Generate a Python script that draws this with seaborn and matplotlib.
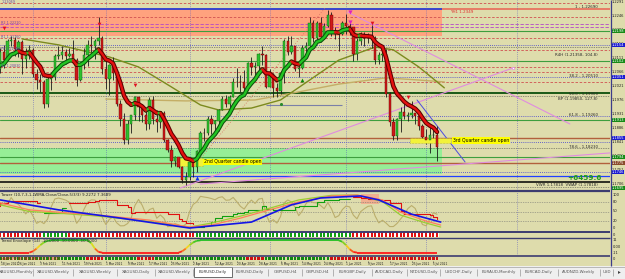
import numpy as np
import pandas as pd
import matplotlib
matplotlib.use("Agg")
import matplotlib.pyplot as plt
from matplotlib.patches import Rectangle
from matplotlib.collections import LineCollection
from matplotlib.colors import LinearSegmentedColormap
import seaborn as sns

# ======================= DATA =======================
first_open = 1.2078
closes = [
    1.2077, 1.2131, 1.2106, 1.2165, 1.2171, 1.2141, 1.2162, 1.2108, 1.2118, 1.2137,
    1.2060, 1.2042, 1.2036, 1.1963, 1.2045, 1.2051, 1.2119, 1.2120, 1.2132, 1.2119,
    1.2126, 1.2105, 1.2040, 1.2091, 1.2120, 1.2154, 1.2150, 1.2165, 1.2175, 1.2075,
    1.2045, 1.2090, 1.2063, 1.1965, 1.1915, 1.1847, 1.1900, 1.1929, 1.1985, 1.1953,
    1.1930, 1.1900, 1.1977, 1.1917, 1.1905, 1.1935, 1.1850, 1.1815, 1.1780, 1.1793,
    1.1763, 1.1719, 1.1729,
    1.1778, 1.1761, 1.1812, 1.1872, 1.1871, 1.1915, 1.1900, 1.1911, 1.1946, 1.1979,
    1.1965, 1.1985, 1.2035, 1.2035, 1.2034, 1.2015, 1.2095, 1.2083, 1.2087, 1.2126,
    1.2122, 1.2020,
    1.2060, 1.2015, 1.2005, 1.2065, 1.2165, 1.2130, 1.2150, 1.2075, 1.2080, 1.2145,
    1.2150, 1.2225, 1.2175, 1.2225, 1.2180, 1.2215, 1.2250, 1.2195, 1.2195, 1.2190,
    1.2225,
    1.2215, 1.2210, 1.2125, 1.2165, 1.2190, 1.2175, 1.2180, 1.2175, 1.2105, 1.2120,
    1.2125, 1.1995, 1.1905, 1.1860, 1.1915, 1.1940, 1.1925, 1.1930, 1.1935, 1.1925,
    1.1895, 1.1857,
    1.1847, 1.1865, 1.1865, 1.1825]
highs = [
    1.2092, 1.2145, 1.2154, 1.2172, 1.2184, 1.2180, 1.2169, 1.2169, 1.2144, 1.2155,
    1.2145, 1.2077, 1.2060, 1.2040, 1.2052, 1.2060, 1.2125, 1.2150, 1.2150, 1.2140,
    1.2145, 1.2169, 1.2111, 1.2097, 1.2144, 1.2169, 1.2181, 1.2173, 1.2243, 1.2182,
    1.2113, 1.2093, 1.2114, 1.2074, 1.1978, 1.1935, 1.1913, 1.1929, 1.1990, 1.1988,
    1.1963, 1.1952, 1.1985, 1.1990, 1.1945, 1.1943, 1.1942, 1.1853, 1.1832, 1.1798,
    1.1793, 1.1775, 1.1746,
    1.1782, 1.1783, 1.1818, 1.1877, 1.1887, 1.1927, 1.1928, 1.1913, 1.1948, 1.1990,
    1.1994, 1.1993, 1.2048, 1.2080, 1.2056, 1.2072, 1.2099, 1.2116, 1.2100, 1.2127,
    1.2150, 1.2125,
    1.2077, 1.2065, 1.2030, 1.2069, 1.2173, 1.2181, 1.2182, 1.2150, 1.2095, 1.2153,
    1.2164, 1.2245, 1.2234, 1.2230, 1.2243, 1.2225, 1.2266, 1.2261, 1.2210, 1.2200,
    1.2230,
    1.2254, 1.2225, 1.2210, 1.2175, 1.2196, 1.2195, 1.2193, 1.2218, 1.2181, 1.2131,
    1.2139, 1.2141, 1.2002, 1.1919, 1.1920, 1.1954, 1.1970, 1.1940, 1.1975, 1.1935,
    1.1930, 1.1901,
    1.1885, 1.1896, 1.1882, 1.1895]
lows = [
    1.2054, 1.2065, 1.2080, 1.2110, 1.2150, 1.2117, 1.2115, 1.2060, 1.2081, 1.2109,
    1.2050, 1.2011, 1.2004, 1.1952, 1.1955, 1.2010, 1.2041, 1.2107, 1.2110, 1.2092,
    1.2116, 1.2097, 1.2023, 1.2038, 1.2075, 1.2086, 1.2130, 1.2110, 1.2155, 1.2061,
    1.2013, 1.1992, 1.2040, 1.1958, 1.1893, 1.1836, 1.1835, 1.1872, 1.1914, 1.1910,
    1.1905, 1.1882, 1.1884, 1.1900, 1.1874, 1.1888, 1.1842, 1.1810, 1.1762, 1.1765,
    1.1760, 1.1712, 1.1704,
    1.1721, 1.1731, 1.1746, 1.1803, 1.1845, 1.1866, 1.1868, 1.1871, 1.1877, 1.1946,
    1.1956, 1.1950, 1.1985, 1.2020, 1.2003, 1.1995, 1.2008, 1.2056, 1.2057, 1.2069,
    1.2089, 1.2016,
    1.2018, 1.1986, 1.1985, 1.1997, 1.2031, 1.2122, 1.2125, 1.2071, 1.2051, 1.2075,
    1.2120, 1.2148, 1.2162, 1.2164, 1.2162, 1.2173, 1.2211, 1.2183, 1.2174, 1.2133,
    1.2185,
    1.2190, 1.2185, 1.2103, 1.2104, 1.2153, 1.2150, 1.2160, 1.2144, 1.2093, 1.2093,
    1.2103, 1.1985, 1.1892, 1.1847, 1.1848, 1.1875, 1.1915, 1.1911, 1.1920, 1.1900,
    1.1880, 1.1850,
    1.1836, 1.1807, 1.1848, 1.1782]

date_labels = ["18 Jan 2021", "26 Jan 2021", "3 Feb 2021", "11 Feb 2021", "19 Feb 2021",
               "1 Mar 2021", "9 Mar 2021", "17 Mar 2021", "25 Mar 2021", "2 Apr 2021",
               "12 Apr 2021", "20 Apr 2021", "28 Apr 2021", "6 May 2021", "14 May 2021",
               "24 May 2021", "1 Jun 2021", "9 Jun 2021", "17 Jun 2021", "25 Jun 2021",
               "5 Jul 2021"]
date_label_bars = [0, 6, 12, 18, 24, 30, 36, 42, 48, 54, 60, 66, 72, 78, 84, 90,
                   96, 102, 108, 114, 120]
month_start_bars = [10, 30, 53, 75, 96, 118, 143]

# long moving averages
olive_bars = [7, 17, 31, 39, 48, 56, 61, 70, 78, 86, 94, 104, 109, 116, 123]
olive_vals = [1.2173, 1.2154, 1.2115, 1.2083, 1.2019, 1.1961, 1.1945, 1.1951,
              1.1977, 1.2041, 1.2105, 1.2147, 1.2138, 1.2083, 1.2016]
tan_bars = [30, 52, 71, 83, 94, 107, 116, 123]
tan_vals = [1.1980, 1.1974, 1.1977, 1.2003, 1.2028, 1.2048, 1.2041, 1.2035]

# horizontal levels
salmon_zone = [1.2182, 1.2269]
green_zone = [1.1739, 1.1823]
top_level = 1.2269
red_dash_levels = [1.2288, 1.2243, 1.2176, 1.2138, 1.2083, 1.2067, 1.2035]
purple_dash_levels = [1.2221, 1.2211]
green_levels = [1.2198, 1.2102, 1.1913, 1.1794]
dark_green_levels = [1.1999]
blue_dot_levels = [1.2154, 1.2051, 1.1926, 1.1842, 1.1746]
gray_dot_levels = [1.2147, 1.1990, 1.1823, 1.1698]
brown_levels = [1.1855, 1.1775]
blue_levels = [1.1733]
black_levels = [1.1714]
short_level_price = 1.1961
short_level_bars = [74, 95]

# trend lines (bar, price) end points
pink_a_bars, pink_a_prices = [50.4, 141.9], [1.1694, 1.2080]
pink_b_bars, pink_b_prices = [96.5, 157.5], [1.2259, 1.1900]
pink_c_bars, pink_c_prices = [55.9, 168.5], [1.1707, 1.1807]
blue_tl_bars, blue_tl_prices = [115.5, 128.7], [1.1977, 1.1778]
dot_tl_bars, dot_tl_prices = [54.5, 90.2], [1.1768, 1.2272]

# signals
sig_down_bars = [2, 28, 38, 103, 113]
sig_down_prices = [1.2208, 1.2221, 1.2025, 1.2224, 1.1987]
sig_mag_bars = [97, 97]
sig_mag_prices = [1.2258, 1.2226]
sig_up_bars = [84]
sig_up_prices = [1.2041]
sig_blue_bars = [55]
sig_blue_prices = [1.1727]
sig_dot_bars = [78]
sig_dot_prices = [1.1964]

# chart texts
level_texts = ["1 - 1.22690", "R4H (1.21358, 104.8)", "38.2 - 1.20510",
               "50.0 - 1.19900", "BP (1.19850, 127.8)", "61.8 - 1.19260",
               "78.6 - 1.18230", "VWR 1.17818  VWAP (1.17818)"]
level_text_prices = [1.2277, 1.2120, 1.2054, 1.1995, 1.1979, 1.1929, 1.1826, 1.1703]
left_texts = ["1.23069", "R2 1.22210", "R1 1.21760", "PP 1.21380", "S1 1.20830"]
left_text_prices = [1.2290, 1.2224, 1.2178, 1.2140, 1.2085]
q2_label, q2_price = "2nd Quarter candle open", 1.1778
q3_label, q3_price = "3rd Quarter candle open", 1.1847
profit_text, profit_price = "+6459.6", 1.1727

right_tick_prices = [1.2291, 1.2246, 1.2201, 1.2156, 1.2111, 1.2066, 1.2021,
                     1.1976, 1.1931, 1.1886, 1.1841, 1.1796, 1.1751, 1.1706]
box_green_prices = [1.2198, 1.2102, 1.1913, 1.1794, 1.1695]
box_blue_prices = [1.2154, 1.2051, 1.1855, 1.1746]
box_brown_prices = [1.1775]

# indicator panel (0..100)
ind_title = "Tower (10,7,3,1,LWMA,Close/Close,5/3/3) 9.2272 7.3689"
ind_blue_bars = [1, 17, 34, 53, 70, 81, 89, 100, 105, 114, 122]
ind_blue_vals = [85, 55, 30, 0, 18, 70, 91, 97, 85, 42, 18]
ind_fast_bars = [1, 9, 17, 28, 42, 53, 59, 67, 75, 83, 92, 99, 106, 111, 118, 122]
ind_orange_vals = [76, 55, 48, 39, 24, 3, 9, 30, 55, 79, 97, 100, 85, 48, 21, 9]
ind_green_vals = [70, 50, 45, 36, 20, 3, 15, 36, 60, 85, 99, 100, 80, 39, 15, 3]
ind_levels = [80, 50, 20]
ind_tick_vals = [100, 80, 50, 20, 0]

# colour strip (R / G state per bar, as runs)
strip_runs = [("R", 13), ("G", 7), ("R", 35), ("G", 43), ("R", 24)]
# trend curve panel (one value per bar, as plateau runs / transitions)
trend_title = "Trend Envelope (14) -10.0000 -10.0000 -10.0000"
trend_curve = ([-9] * 10 + [-7, -3, 2, 6, 8.5] + [9] * 11 + [5, -3, -8] + [-9] * 22
               + [-7, -3, 2, 6, 8.5] + [9] * 39 + [7, 2, -4, -8] + [-9] * 23)
bottom_runs = [("G", 25), ("R", 5), ("G", 9), ("R", 5), ("G", 25), ("R", 5),
               ("G", 18), ("R", 30)]
bottom_title = "NARROW BB INSTANCE (1) 0.0000"

tab_names = ["XAUUSD,Monthly", "XAUUSD,Weekly", "XAGUSD,Weekly", "XAGUSD,Daily",
             "XAGUSD,Weekly", "EURUSD,Daily", "EURUSD,Daily", "GBPUSD,H4",
             "GBPUSD,H4", "EURGBP,Daily", "AUDCAD,Daily", "NZDUSD,Daily",
             "USDCHF,Daily", "EURAUD,Monthly", "EURCAD,Daily", "AUDNZD,Weekly", "USD"]
active_tab = 5

# ======================= LAYOUT / STYLE =======================
sns.set_theme(style="white")
plt.rcParams['font.family'] = ['DejaVu Sans']

W, H = 625, 279
BG = "#DEDCAC"
PXB, X0 = 3.64, -3.4          # pixels per bar, pixel x of bar 0
MAIN_R = 610
XL = ((0 - X0) / PXB, (MAIN_R - X0) / PXB)
PTOP, PBOT = 1.2298, 1.1688
RFS = 2.6                     # right scale font size


def bar_of_px(x):
    return (x - X0) / PXB


fig = plt.figure(figsize=(W / 100, H / 100), dpi=100)
fig.patch.set_facecolor(BG)


def axpx(x0, y0, x1, y1, fc=BG):
    ax = fig.add_axes([x0 / W, 1 - y1 / H, (x1 - x0) / W, (y1 - y0) / H])
    ax.set_facecolor(fc)
    for s in ax.spines.values():
        s.set_visible(False)
    ax.set_xticks([])
    ax.set_yticks([])
    ax.set_xlim(*XL)
    return ax


def runs_to_list(runs):
    out = []
    for s, k in runs:
        out += [s] * k
    return out


n = len(closes)
bars = np.arange(n)
opens = [first_open] + closes[:-1]
SEP_COLOR = "#5A5AC0"

# ----------------------- main price panel -----------------------
axM = axpx(0, 0, MAIN_R, 190)
axM.set_ylim(PBOT, PTOP)
zx1 = bar_of_px(442)
axM.add_patch(Rectangle((XL[0], salmon_zone[0]), zx1 - XL[0], salmon_zone[1] - salmon_zone[0],
                        fc="#FFA27E", ec="none", zorder=0))
axM.add_patch(Rectangle((XL[0], green_zone[0]), zx1 - XL[0], green_zone[1] - green_zone[0],
                        fc="#96EE96", ec="none", zorder=0))
for p in red_dash_levels:
    axM.axhline(p, color="#D05050", lw=0.6, ls=(0, (3, 2)), zorder=1)
for p in purple_dash_levels:
    axM.axhline(p, color="#B446C8", lw=0.6, ls=(0, (4, 2)), zorder=1)
for p in green_levels:
    axM.axhline(p, color="#3E9E3E", lw=0.8, zorder=1)
for p in dark_green_levels:
    axM.axhline(p, color="#0B500B", lw=1.3, zorder=1)
for p in blue_dot_levels:
    axM.axhline(p, color="#3C3CD0", lw=0.6, ls=(0, (1, 1.5)), zorder=1)
for p in gray_dot_levels:
    axM.axhline(p, color="#404040", lw=0.5, ls=(0, (1, 1.5)), zorder=1)
for p in brown_levels:
    axM.axhline(p, color="#B2603C", lw=1.0, zorder=1)
for p in blue_levels:
    axM.axhline(p, color="#2040FF", lw=0.9, zorder=1)
for p in black_levels:
    axM.axhline(p, color="#000000", lw=1.1, zorder=1)
axM.hlines(top_level, XL[0], zx1, color="#2A3CD0", lw=1.3, zorder=1)
axM.hlines(top_level, zx1, XL[1], color="#E86A5A", lw=1.2, zorder=1)
axM.hlines(short_level_price, short_level_bars[0], short_level_bars[1], color="#7A80A8", lw=0.8, zorder=1)
for b in month_start_bars:
    axM.axvline(b, color=SEP_COLOR, lw=0.5, ls=(0, (1, 2)), zorder=1)

# trend lines
sns.lineplot(x=pink_a_bars, y=pink_a_prices, color="#E08CE0", lw=0.8, ax=axM, zorder=2)
sns.lineplot(x=pink_b_bars, y=pink_b_prices, color="#E08CE0", lw=0.8, ax=axM, zorder=2)
sns.lineplot(x=pink_c_bars, y=pink_c_prices, color="#E08CE0", lw=0.8, ax=axM, zorder=2)
sns.lineplot(x=blue_tl_bars, y=blue_tl_prices, color="#4B4BE0", lw=0.7, ax=axM, zorder=2)
axM.plot(dot_tl_bars, dot_tl_prices, color="#D87060", lw=0.6, ls=(0, (1, 2)), zorder=2)
axM.plot(pink_a_bars[-1], pink_a_prices[-1], marker="s", ms=2, mfc="white", mec="#E08CE0", mew=0.5)

# long MAs
sns.lineplot(x=tan_bars, y=tan_vals, color="#C4AE66", lw=1.0, ax=axM, zorder=2)
sns.lineplot(x=olive_bars, y=olive_vals, color="#7C8A1E", lw=1.0, ax=axM, zorder=2)

# candles
axM.vlines(bars, lows, highs, color="#1A1A1A", lw=0.6, zorder=3)
o = np.array(opens)
c = np.array(closes)
bottoms = np.minimum(o, c)
heights = np.maximum(np.abs(c - o), 0.00008)
up_c = c >= o
axM.bar(bars, heights, bottom=bottoms, width=0.66,
        color=np.where(up_c, "#2EC02E", "#D01818"),
        edgecolor=np.where(up_c, "#106010", "#600000"), lw=0.3, zorder=4)

# fast MA (red falling / green rising)
ema = pd.Series(closes).ewm(span=8, adjust=False).mean().values
rows = []
seg, prev = 0, None
for i in range(1, n):
    d = "up" if ema[i] >= ema[i - 1] else "down"
    if prev is not None and d != prev:
        seg += 1
    rows += [(i - 1, ema[i - 1], seg, d), (i, ema[i], seg, d)]
    prev = d
ma_df = pd.DataFrame(rows, columns=["bar", "val", "seg", "dir"])
sns.lineplot(data=ma_df, x="bar", y="val", hue="dir", units="seg", estimator=None, sort=False,
             palette={"up": "#0C500C", "down": "#5A0000"}, lw=3.2, legend=False, ax=axM, zorder=5)
sns.lineplot(data=ma_df, x="bar", y="val", hue="dir", units="seg", estimator=None, sort=False,
             palette={"up": "#22C422", "down": "#E41010"}, lw=1.7, legend=False, ax=axM, zorder=6)

# signals
axM.scatter(sig_down_bars, sig_down_prices, marker="v", s=7, color="#E01020", zorder=7, lw=0)
axM.scatter(sig_mag_bars, sig_mag_prices, marker="v", s=9, color="#E020C0", zorder=7, lw=0)
axM.scatter(sig_up_bars, sig_up_prices, marker="^", s=8, color="#0A8A0A", zorder=7, lw=0)
axM.scatter(sig_blue_bars, sig_blue_prices, marker="^", s=9, color="#1030E0", zorder=7, lw=0)
axM.scatter(sig_dot_bars, sig_dot_prices, marker="o", s=5, color="#2A8A2A", zorder=7, lw=0)

# quarter boxes
axM.add_patch(Rectangle((bar_of_px(178), q2_price - 0.0013), bar_of_px(203) - bar_of_px(178), 0.0026,
                        fc="#F2F23A", ec="#9A9A20", lw=0.4, ls=":", zorder=3))
axM.text(bar_of_px(204), q2_price, q2_label, fontsize=3.3, va="center", ha="left", color="black",
         zorder=8, bbox=dict(boxstyle="square,pad=0.15", fc="#FFFF00", ec="none"))
axM.add_patch(Rectangle((bar_of_px(410), q3_price - 0.0008), bar_of_px(451) - bar_of_px(410), 0.0016,
                        fc="#F2F23A", ec="#9A9A20", lw=0.4, ls=":", zorder=3))
axM.text(bar_of_px(453), q3_price, q3_label, fontsize=3.3, va="center", ha="left", color="black",
         zorder=8, bbox=dict(boxstyle="square,pad=0.15", fc="#FFFF00", ec="none"))

ytr = axM.get_yaxis_transform()
for t, p in zip(level_texts, level_text_prices):
    axM.text(598 / MAIN_R, p, t, transform=ytr, fontsize=2.9, ha="right", va="center",
             color="#2A2A2A", zorder=8)
for t, p in zip(left_texts, left_text_prices):
    axM.text(0.002, p, t, transform=ytr, fontsize=2.4, ha="left", va="center",
             color="#6A4AA8", zorder=8)
axM.text(602 / MAIN_R, profit_price, profit_text, transform=ytr, fontsize=5.2, ha="right",
         va="center", color="#1E9A1E", fontweight="bold", zorder=8)
axM.text(bar_of_px(450), 1.2259, "YH1 1.2349", fontsize=3.0, color="#E03030", zorder=8, va="center")

# right price scale
for p in right_tick_prices:
    axM.text(1.002, p, f"{p:.4f}", transform=ytr, fontsize=RFS, ha="left", va="center",
             color="#202020", clip_on=False)
for plist, fc in ((box_green_prices, "#168A16"), (box_blue_prices, "#1A1AD0"),
                  (box_brown_prices, "#8A4A2A")):
    for p in plist:
        axM.text(1.003, p, f"{p:.4f}", transform=ytr, fontsize=RFS, ha="left", va="center",
                 color="white", clip_on=False,
                 bbox=dict(boxstyle="square,pad=0.08", fc=fc, ec="none"))

# ----------------------- indicator panel -----------------------
axI = axpx(0, 192, MAIN_R, 231)
axI.set_ylim(-9, 109)
for lv in ind_levels:
    axI.axhline(lv, color="#707070", lw=0.5, ls=(0, (1, 1.5)))
for b in month_start_bars:
    axI.axvline(b, color=SEP_COLOR, lw=0.5, ls=(0, (1, 2)))
axI.add_patch(Rectangle((100, 74), 5, 30, fc="#F6A68A", ec="none", alpha=0.8))
cs = pd.Series(closes)
hh = pd.Series(highs).rolling(5, min_periods=1).max()
ll = pd.Series(lows).rolling(5, min_periods=1).min()
stoch = (100 * (cs - ll) / (hh - ll)).rolling(2, min_periods=1).mean()
sns.lineplot(x=bars, y=stoch.values, color="#BBAE6C", lw=0.8, ax=axI)
lo_ref, hi_ref = min(lows), max(highs)
step_dn = 100 * (cs.rolling(5, min_periods=1).max() - lo_ref) / (hi_ref - lo_ref)
step_up = 100 * (cs.rolling(5, min_periods=1).min() - lo_ref) / (hi_ref - lo_ref)
strip_state = runs_to_list(strip_runs)
start = 0
for s, k in strip_runs:
    idx = np.arange(start, start + k)
    if s == "R":
        axI.step(idx, step_dn.values[idx], where="post", color="#E01010", lw=0.8)
    else:
        axI.step(idx, step_up.values[idx], where="post", color="#10A010", lw=0.8)
    start += k
sns.lineplot(x=ind_fast_bars, y=ind_green_vals, color="#9ACD32", lw=0.9, ax=axI)
sns.lineplot(x=ind_fast_bars, y=ind_orange_vals, color="#FF7F5A", lw=0.9, ax=axI)
sns.lineplot(x=ind_blue_bars, y=ind_blue_vals, color="#1414E6", lw=1.2, ax=axI)
axI.text(0.002, 0.98, ind_title, transform=axI.transAxes, fontsize=2.8, va="top", ha="left",
         color="#202020")
axI.set_ylabel("")
for v in ind_tick_vals:
    axI.text(1.004, v, str(v), transform=axI.get_yaxis_transform(), fontsize=RFS, va="center",
             ha="left", color="#202020", clip_on=False)

# ----------------------- colour strip -----------------------
axS = axpx(0, 232, MAIN_R, 237)
axS.set_ylim(0, 1)
axS.bar(bars, 1, width=1.0, color="white", lw=0)
axS.bar(bars, 1, width=0.55, color=["#E01010" if s == "R" else "#10A010" for s in strip_state], lw=0)
axS.text(1.004, 0.5, "0", transform=axS.transAxes, fontsize=RFS, va="center", ha="left",
         clip_on=False, color="#202020")

# ----------------------- trend curve panel -----------------------
axT = axpx(0, 238, MAIN_R, 255)
axT.set_ylim(-12.5, 12.5)
for b in month_start_bars:
    axT.axvline(b, color=SEP_COLOR, lw=0.5, ls=(0, (1, 2)))
tc = np.array(trend_curve, dtype=float)
pts = np.column_stack([bars, tc])
segs = np.stack([pts[:-1], pts[1:]], axis=1)
cmap = LinearSegmentedColormap.from_list("ryg", ["#FF1A1A", "#F0E020", "#20C020"])
lc = LineCollection(segs, cmap=cmap, norm=plt.Normalize(-9, 9), lw=1.3)
lc.set_array((tc[:-1] + tc[1:]) / 2)
axT.add_collection(lc)
axT.text(0.002, 0.97, trend_title, transform=axT.transAxes, fontsize=2.8, va="top", ha="left",
         color="#202020")
for lbl, v in (("11", 9.5), ("0.00", 0), ("-11", -9.5)):
    axT.text(1.004, v, lbl, transform=axT.get_yaxis_transform(), fontsize=RFS, va="center",
             ha="left", color="#202020", clip_on=False)

# ----------------------- bottom strip -----------------------
axB = axpx(0, 256, MAIN_R, 261)
axB.set_ylim(0, 1)
bottom_state = runs_to_list(bottom_runs)
axB.bar(bars, 0.55, bottom=0.2, width=0.7,
        color=["#D01010" if s == "R" else "#108A10" for s in bottom_state], lw=0)
axB.text(0.002, 0.5, bottom_title, transform=axB.transAxes, fontsize=2.4, va="center",
         ha="left", color="#E01010")
axB.text(1.004, 0.5, "0", transform=axB.transAxes, fontsize=RFS, va="center", ha="left",
         clip_on=False, color="#202020")

# ----------------------- date labels -----------------------
axD = axpx(0, 261, MAIN_R, 266)
axD.set_ylim(0, 1)
for b, t in zip(date_label_bars, date_labels):
    xt = max(b, XL[0] + 0.15)
    axD.text(xt, 0.45, t, fontsize=2.1, va="center", ha="left", color="#202020")
    axD.vlines(xt, 0.85, 1.0, color="#202020", lw=0.4)

# ----------------------- overlay: separators & tabs -----------------------
axO = fig.add_axes([0, 0, 1, 1], zorder=20)
axO.set_xlim(0, W)
axO.set_ylim(H, 0)
axO.axis("off")
axO.patch.set_alpha(0)
for y, lw in ((191, 1.6), (231.5, 1.4), (237.5, 1.0), (255.5, 1.2)):
    axO.hlines(y, 0, MAIN_R, color="#3C3C70", lw=lw)
axO.vlines(MAIN_R + 0.5, 0, 266, color="#3C3C8A", lw=0.9)

tab_edges = [0, 33, 73, 117, 155, 193, 232, 268, 302, 333, 372, 407, 440, 477, 520,
             558, 600, 613]
axO.add_patch(Rectangle((0, 266), W, 13, fc="#EFEFEF", ec="none"))
axO.hlines(266.5, 0, W, color="#A0A0A0", lw=0.5)
for i, name in enumerate(tab_names):
    x0, x1 = tab_edges[i], tab_edges[i + 1]
    if i == active_tab:
        axO.add_patch(Rectangle((x0 + 0.5, 266.5), x1 - x0 - 1, 10.5, fc="white",
                                ec="#555555", lw=0.6))
    else:
        axO.vlines(x1, 268.5, 276, color="#9A9A9A", lw=0.5)
    axO.text((x0 + x1) / 2, 272, name, fontsize=2.9, ha="center", va="center",
             color="#303030" if i == active_tab else "#555555")
axO.text(619, 272, "\u25B8", fontsize=4, ha="center", va="center", color="#404040")

fig.savefig("out.png", dpi=100, facecolor=fig.get_facecolor())
